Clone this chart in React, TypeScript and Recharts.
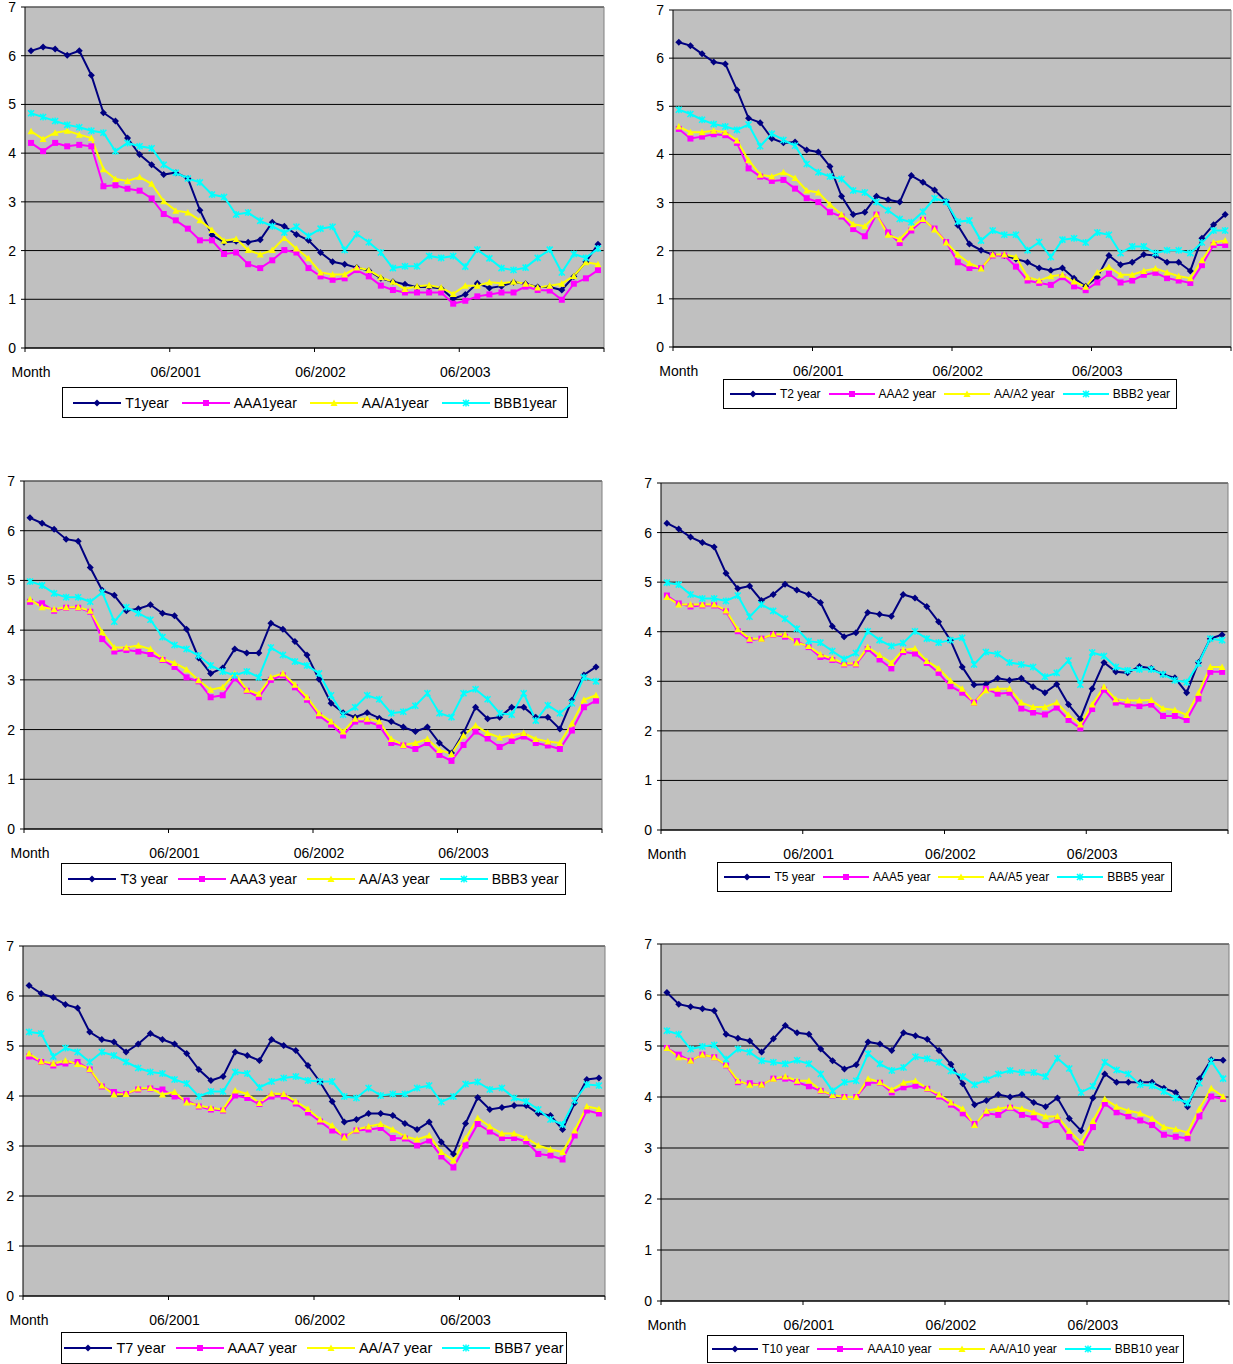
import { LineChart, Line, XAxis, YAxis, CartesianGrid, ReferenceLine } from 'recharts'

const months = [
  'Month', '07/2000', '08/2000', '09/2000', '10/2000', '11/2000', '12/2000', '01/2001', '02/2001', '03/2001', '04/2001', '05/2001',
  '06/2001', '07/2001', '08/2001', '09/2001', '10/2001', '11/2001', '12/2001', '01/2002', '02/2002', '03/2002', '04/2002', '05/2002',
  '06/2002', '07/2002', '08/2002', '09/2002', '10/2002', '11/2002', '12/2002', '01/2003', '02/2003', '03/2003', '04/2003', '05/2003',
  '06/2003', '07/2003', '08/2003', '09/2003', '10/2003', '11/2003', '12/2003', '01/2004', '02/2004', '03/2004', '04/2004', '05/2004',
]
const labelIdx = [0, 12, 24, 36]
const boundaryIdx = [-0.5, 11.5, 23.5, 35.5, 47.5]
const yTicks = [0, 1, 2, 3, 4, 5, 6, 7]

// 1 year
const t1 = [6.10, 6.18, 6.14, 6.01, 6.10, 5.60, 4.83, 4.66, 4.31, 3.97, 3.76, 3.56, 3.60, 3.48, 2.83, 2.32, 2.17, 2.19, 2.17, 2.22, 2.58, 2.50, 2.33, 2.21, 1.96, 1.77, 1.72, 1.65, 1.59, 1.43, 1.36, 1.31, 1.25, 1.25, 1.22, 1.01, 1.10, 1.33, 1.23, 1.27, 1.35, 1.32, 1.25, 1.25, 1.19, 1.47, 1.77, 2.13]
const aaa1 = [4.21, 4.04, 4.21, 4.14, 4.17, 4.14, 3.32, 3.34, 3.27, 3.23, 3.07, 2.75, 2.62, 2.45, 2.21, 2.21, 1.93, 1.96, 1.72, 1.64, 1.80, 2.01, 1.96, 1.64, 1.47, 1.40, 1.43, 1.60, 1.47, 1.28, 1.19, 1.14, 1.14, 1.14, 1.14, 0.91, 0.97, 1.06, 1.10, 1.14, 1.14, 1.26, 1.19, 1.18, 0.99, 1.32, 1.43, 1.60]
const aa1 = [4.45, 4.29, 4.42, 4.46, 4.38, 4.31, 3.67, 3.47, 3.43, 3.51, 3.37, 3.01, 2.82, 2.78, 2.62, 2.42, 2.20, 2.24, 2.01, 1.92, 2.01, 2.26, 2.04, 1.84, 1.55, 1.51, 1.51, 1.65, 1.60, 1.45, 1.36, 1.21, 1.27, 1.29, 1.24, 1.11, 1.28, 1.28, 1.35, 1.33, 1.36, 1.32, 1.24, 1.28, 1.32, 1.48, 1.76, 1.72]
const bbb1 = [4.82, 4.74, 4.66, 4.58, 4.53, 4.46, 4.42, 4.04, 4.21, 4.14, 4.10, 3.76, 3.60, 3.48, 3.40, 3.15, 3.10, 2.74, 2.78, 2.61, 2.50, 2.37, 2.49, 2.30, 2.45, 2.49, 2.01, 2.34, 2.17, 1.96, 1.64, 1.68, 1.68, 1.89, 1.85, 1.89, 1.67, 2.02, 1.84, 1.64, 1.60, 1.65, 1.85, 2.02, 1.55, 1.93, 1.85, 2.04]

// 2 year
const t2 = [6.33, 6.26, 6.09, 5.92, 5.88, 5.34, 4.75, 4.66, 4.33, 4.24, 4.26, 4.09, 4.05, 3.75, 3.13, 2.75, 2.80, 3.13, 3.06, 3.01, 3.56, 3.42, 3.26, 3.02, 2.53, 2.14, 2.01, 1.92, 1.90, 1.83, 1.76, 1.64, 1.59, 1.64, 1.43, 1.26, 1.45, 1.90, 1.71, 1.76, 1.92, 1.90, 1.76, 1.76, 1.58, 2.26, 2.54, 2.75]
const aaa2 = [4.53, 4.33, 4.37, 4.42, 4.40, 4.24, 3.71, 3.54, 3.45, 3.47, 3.29, 3.09, 3.01, 2.80, 2.71, 2.45, 2.30, 2.75, 2.38, 2.16, 2.42, 2.64, 2.46, 2.18, 1.76, 1.64, 1.64, 1.90, 1.90, 1.67, 1.38, 1.33, 1.29, 1.45, 1.26, 1.18, 1.34, 1.52, 1.34, 1.38, 1.50, 1.54, 1.43, 1.38, 1.33, 1.70, 2.12, 2.12]
const aa2 = [4.58, 4.46, 4.46, 4.49, 4.46, 4.29, 3.88, 3.58, 3.54, 3.63, 3.51, 3.25, 3.21, 2.96, 2.75, 2.55, 2.51, 2.75, 2.33, 2.24, 2.48, 2.66, 2.44, 2.17, 1.92, 1.74, 1.63, 1.92, 1.92, 1.87, 1.45, 1.38, 1.47, 1.50, 1.36, 1.25, 1.55, 1.66, 1.50, 1.50, 1.58, 1.63, 1.55, 1.47, 1.43, 1.80, 2.17, 2.21]
const bbb2 = [4.93, 4.84, 4.72, 4.63, 4.58, 4.51, 4.62, 4.17, 4.43, 4.30, 4.18, 3.80, 3.63, 3.54, 3.49, 3.25, 3.21, 3.01, 2.84, 2.66, 2.59, 2.81, 3.09, 3.01, 2.60, 2.63, 2.21, 2.42, 2.33, 2.33, 2.01, 2.18, 1.87, 2.23, 2.26, 2.17, 2.38, 2.33, 1.95, 2.09, 2.09, 1.95, 2.01, 2.01, 1.95, 2.17, 2.42, 2.42]

// 3 year
const t3 = [6.26, 6.15, 6.03, 5.83, 5.79, 5.26, 4.80, 4.70, 4.39, 4.43, 4.51, 4.34, 4.29, 4.02, 3.44, 3.13, 3.24, 3.62, 3.54, 3.54, 4.14, 4.02, 3.77, 3.50, 3.01, 2.53, 2.34, 2.25, 2.34, 2.23, 2.16, 2.05, 1.96, 2.05, 1.73, 1.53, 1.93, 2.45, 2.22, 2.25, 2.45, 2.45, 2.25, 2.25, 2.01, 2.59, 3.10, 3.26]
const aaa3 = [4.57, 4.54, 4.39, 4.45, 4.45, 4.37, 3.82, 3.57, 3.60, 3.57, 3.52, 3.40, 3.26, 3.05, 2.97, 2.65, 2.69, 3.03, 2.78, 2.65, 3.00, 3.09, 2.85, 2.60, 2.28, 2.10, 1.88, 2.16, 2.16, 2.08, 1.73, 1.68, 1.61, 1.73, 1.49, 1.37, 1.69, 1.96, 1.82, 1.65, 1.77, 1.86, 1.73, 1.68, 1.61, 1.98, 2.45, 2.58]
const aa3 = [4.62, 4.46, 4.42, 4.46, 4.46, 4.39, 3.96, 3.65, 3.65, 3.69, 3.62, 3.42, 3.34, 3.21, 2.99, 2.80, 2.85, 3.13, 2.80, 2.72, 3.05, 3.13, 2.90, 2.65, 2.33, 2.16, 1.96, 2.22, 2.22, 2.16, 1.81, 1.69, 1.73, 1.81, 1.59, 1.51, 1.88, 2.08, 1.93, 1.84, 1.88, 1.93, 1.81, 1.76, 1.73, 2.12, 2.60, 2.69]
const bbb3 = [4.98, 4.90, 4.74, 4.66, 4.66, 4.57, 4.76, 4.17, 4.46, 4.34, 4.21, 3.86, 3.70, 3.62, 3.49, 3.29, 3.17, 3.09, 3.17, 3.05, 3.65, 3.50, 3.37, 3.29, 3.13, 2.69, 2.30, 2.45, 2.69, 2.61, 2.33, 2.36, 2.48, 2.73, 2.33, 2.25, 2.73, 2.81, 2.61, 2.33, 2.30, 2.73, 2.18, 2.49, 2.33, 2.53, 3.05, 2.97]

// 5 year
const t5 = [6.19, 6.07, 5.91, 5.80, 5.71, 5.18, 4.87, 4.92, 4.63, 4.75, 4.96, 4.84, 4.75, 4.59, 4.11, 3.90, 3.98, 4.39, 4.35, 4.31, 4.75, 4.68, 4.51, 4.20, 3.83, 3.29, 2.93, 2.94, 3.06, 3.02, 3.06, 2.89, 2.77, 2.94, 2.53, 2.24, 2.85, 3.38, 3.19, 3.17, 3.30, 3.26, 3.14, 3.07, 2.77, 3.38, 3.86, 3.94]
const aaa5 = [4.73, 4.57, 4.51, 4.53, 4.53, 4.41, 4.01, 3.83, 3.86, 3.94, 3.90, 3.81, 3.69, 3.49, 3.43, 3.34, 3.34, 3.65, 3.44, 3.26, 3.59, 3.56, 3.37, 3.17, 2.90, 2.77, 2.57, 2.85, 2.75, 2.77, 2.45, 2.37, 2.33, 2.47, 2.22, 2.05, 2.44, 2.83, 2.57, 2.53, 2.50, 2.53, 2.30, 2.30, 2.22, 2.65, 3.19, 3.19]
const aa5 = [4.70, 4.55, 4.55, 4.55, 4.55, 4.43, 4.05, 3.86, 3.86, 3.95, 3.94, 3.78, 3.71, 3.54, 3.46, 3.36, 3.36, 3.69, 3.53, 3.37, 3.63, 3.66, 3.41, 3.26, 3.01, 2.85, 2.57, 2.82, 2.85, 2.85, 2.57, 2.48, 2.48, 2.57, 2.32, 2.13, 2.53, 2.89, 2.64, 2.61, 2.61, 2.62, 2.45, 2.42, 2.32, 2.77, 3.29, 3.29]
const bbb5 = [4.99, 4.95, 4.75, 4.67, 4.67, 4.62, 4.73, 4.30, 4.55, 4.42, 4.26, 4.06, 3.81, 3.78, 3.61, 3.45, 3.57, 4.01, 3.83, 3.71, 3.77, 4.01, 3.86, 3.78, 3.83, 3.88, 3.34, 3.59, 3.55, 3.38, 3.34, 3.29, 3.09, 3.17, 3.42, 2.93, 3.58, 3.51, 3.29, 3.22, 3.24, 3.24, 3.14, 3.02, 2.98, 3.36, 3.86, 3.83]

// 7 year
const t7 = [6.21, 6.05, 5.97, 5.83, 5.76, 5.28, 5.13, 5.08, 4.88, 5.04, 5.25, 5.13, 5.04, 4.85, 4.53, 4.31, 4.39, 4.88, 4.81, 4.71, 5.13, 5.01, 4.91, 4.61, 4.28, 3.89, 3.48, 3.53, 3.65, 3.65, 3.61, 3.45, 3.33, 3.48, 3.08, 2.84, 3.45, 3.97, 3.73, 3.77, 3.81, 3.81, 3.65, 3.61, 3.33, 3.86, 4.33, 4.36]
const aaa7 = [4.79, 4.68, 4.61, 4.65, 4.68, 4.53, 4.19, 4.08, 4.04, 4.13, 4.15, 4.13, 3.99, 3.91, 3.79, 3.73, 3.71, 4.01, 3.96, 3.84, 3.99, 3.99, 3.85, 3.67, 3.49, 3.31, 3.19, 3.31, 3.33, 3.36, 3.16, 3.15, 3.01, 3.11, 2.79, 2.57, 3.01, 3.44, 3.29, 3.16, 3.16, 3.09, 2.84, 2.81, 2.73, 3.21, 3.71, 3.65]
const aa7 = [4.85, 4.69, 4.65, 4.71, 4.64, 4.54, 4.21, 4.03, 4.04, 4.15, 4.16, 4.03, 4.08, 3.87, 3.81, 3.76, 3.73, 4.11, 4.04, 3.86, 4.05, 4.04, 3.89, 3.74, 3.53, 3.41, 3.17, 3.33, 3.39, 3.44, 3.33, 3.19, 3.13, 3.21, 2.88, 2.71, 3.15, 3.56, 3.39, 3.25, 3.25, 3.16, 3.01, 2.93, 2.88, 3.31, 3.79, 3.74]
const bbb7 = [5.28, 5.25, 4.79, 4.96, 4.88, 4.68, 4.88, 4.81, 4.68, 4.56, 4.48, 4.45, 4.33, 4.25, 3.99, 4.09, 4.09, 4.48, 4.45, 4.17, 4.29, 4.36, 4.39, 4.31, 4.29, 4.29, 3.99, 3.96, 4.16, 4.01, 4.04, 4.04, 4.16, 4.21, 3.88, 3.99, 4.24, 4.28, 4.13, 4.16, 3.96, 3.89, 3.73, 3.53, 3.43, 3.91, 4.23, 4.21]

// 10 year
const t10 = [6.05, 5.82, 5.77, 5.73, 5.69, 5.23, 5.15, 5.10, 4.88, 5.14, 5.40, 5.26, 5.23, 4.94, 4.71, 4.55, 4.63, 5.08, 5.04, 4.91, 5.26, 5.20, 5.13, 4.91, 4.64, 4.26, 3.85, 3.93, 4.05, 4.00, 4.05, 3.89, 3.81, 3.98, 3.58, 3.34, 3.98, 4.45, 4.29, 4.29, 4.29, 4.29, 4.17, 4.09, 3.81, 4.36, 4.73, 4.72]
const aaa10 = [4.96, 4.83, 4.71, 4.83, 4.78, 4.62, 4.29, 4.27, 4.24, 4.36, 4.36, 4.29, 4.21, 4.12, 4.03, 4.00, 4.00, 4.28, 4.28, 4.09, 4.19, 4.22, 4.16, 4.01, 3.85, 3.68, 3.47, 3.68, 3.65, 3.79, 3.65, 3.60, 3.45, 3.55, 3.22, 3.00, 3.41, 3.87, 3.70, 3.62, 3.54, 3.45, 3.26, 3.22, 3.19, 3.62, 4.01, 3.96]
const aa10 = [4.96, 4.78, 4.71, 4.83, 4.78, 4.63, 4.32, 4.24, 4.24, 4.36, 4.40, 4.32, 4.32, 4.13, 4.04, 4.00, 4.00, 4.36, 4.29, 4.14, 4.28, 4.32, 4.17, 4.05, 3.89, 3.77, 3.45, 3.73, 3.77, 3.81, 3.77, 3.70, 3.62, 3.62, 3.34, 3.11, 3.53, 3.96, 3.81, 3.73, 3.68, 3.58, 3.41, 3.37, 3.30, 3.77, 4.17, 4.01]
const bbb10 = [5.30, 5.23, 4.94, 4.99, 5.02, 4.74, 4.94, 4.88, 4.71, 4.68, 4.65, 4.72, 4.65, 4.45, 4.12, 4.29, 4.32, 4.85, 4.65, 4.52, 4.58, 4.79, 4.75, 4.68, 4.51, 4.40, 4.24, 4.34, 4.45, 4.52, 4.48, 4.48, 4.40, 4.76, 4.56, 4.09, 4.21, 4.68, 4.53, 4.45, 4.24, 4.22, 4.11, 3.98, 3.88, 4.27, 4.70, 4.36]

const colors = ['#000080', '#FF00FF', '#FFFF00', '#00FFFF']
const shapes = ['diamond', 'square', 'triangle', 'star']
const FONT = 'Arial, "Liberation Sans", sans-serif'

type PanelCfg = {
  names: string[]
  series: number[][]
  plot: { x: number; y: number; w: number; h: number }
  legend: { x: number; y: number; w: number; h: number; font: number; line: number; gap: number }
  font: number
}

const panels: PanelCfg[] = [
  {
    names: ['T1year', 'AAA1year', 'AA/A1year', 'BBB1year'],
    series: [t1, aaa1, aa1, bbb1],
    plot: { x: 25, y: 7, w: 579, h: 341 },
    legend: { x: 62, y: 387, w: 506, h: 31, font: 14, line: 48, gap: 13 },
    font: 14,
  },
  {
    names: ['T2 year', 'AAA2 year', 'AA/A2 year', 'BBB2 year'],
    series: [t2, aaa2, aa2, bbb2],
    plot: { x: 673, y: 10, w: 558, h: 337 },
    legend: { x: 723, y: 379, w: 454, h: 30, font: 12, line: 46, gap: 8 },
    font: 14,
  },
  {
    names: ['T3 year', 'AAA3 year', 'AA/A3 year', 'BBB3 year'],
    series: [t3, aaa3, aa3, bbb3],
    plot: { x: 24, y: 481, w: 578, h: 348 },
    legend: { x: 61, y: 863, w: 505, h: 32, font: 14, line: 48, gap: 10 },
    font: 14,
  },
  {
    names: ['T5 year', 'AAA5 year', 'AA/A5 year', 'BBB5 year'],
    series: [t5, aaa5, aa5, bbb5],
    plot: { x: 661, y: 483, w: 567, h: 347 },
    legend: { x: 717, y: 862, w: 455, h: 30, font: 12, line: 46, gap: 8 },
    font: 14,
  },
  {
    names: ['T7 year', 'AAA7 year', 'AA/A7 year', 'BBB7 year'],
    series: [t7, aaa7, aa7, bbb7],
    plot: { x: 23, y: 946, w: 582, h: 350 },
    legend: { x: 61, y: 1332, w: 506, h: 32, font: 14.5, line: 48, gap: 10 },
    font: 14,
  },
  {
    names: ['T10 year', 'AAA10 year', 'AA/A10 year', 'BBB10 year'],
    series: [t10, aaa10, aa10, bbb10],
    plot: { x: 661, y: 944, w: 568, h: 357 },
    legend: { x: 707, y: 1335, w: 477, h: 28, font: 12, line: 46, gap: 8 },
    font: 14,
  },
]

function Marker({ shape, cx, cy, color }: { shape: string; cx: number; cy: number; color: string }) {
  if (shape === 'diamond') {
    return <polygon points={`${cx},${cy - 3.5} ${cx + 3.5},${cy} ${cx},${cy + 3.5} ${cx - 3.5},${cy}`} fill={color} />
  }
  if (shape === 'square') {
    return <rect x={cx - 3} y={cy - 3} width={6} height={6} fill={color} />
  }
  if (shape === 'triangle') {
    return <polygon points={`${cx},${cy - 3.5} ${cx + 3.5},${cy + 3} ${cx - 3.5},${cy + 3}`} fill={color} />
  }
  return (
    <path
      d={`M${cx - 3},${cy - 3}L${cx + 3},${cy + 3}M${cx - 3},${cy + 3}L${cx + 3},${cy - 3}M${cx},${cy - 3.5}L${cx},${cy + 3.5}`}
      stroke={color}
      strokeWidth={1.5}
      fill="none"
    />
  )
}

function Legend({ cfg }: { cfg: PanelCfg }) {
  const l = cfg.legend
  return (
    <div
      style={{
        position: 'absolute', left: l.x, top: l.y, width: l.w, height: l.h, boxSizing: 'border-box',
        border: '1px solid #000', background: '#fff', display: 'flex', alignItems: 'center',
        justifyContent: 'center', fontFamily: FONT, fontSize: l.font, color: '#000', whiteSpace: 'nowrap',
      }}
    >
      {cfg.names.map((n, k) => (
        <div key={n} style={{ display: 'flex', alignItems: 'center', marginRight: k < 3 ? l.gap : 0 }}>
          <svg width={l.line} height={10} style={{ display: 'block' }}>
            <line x1={0} y1={5} x2={l.line} y2={5} stroke={colors[k]} strokeWidth={2} />
            <Marker shape={shapes[k]} cx={l.line / 2} cy={5} color={colors[k]} />
          </svg>
          <span style={{ marginLeft: 4 }}>{n}</span>
        </div>
      ))}
    </div>
  )
}

function Panel({ cfg }: { cfg: PanelCfg }) {
  const { plot } = cfg
  const data = months.map((m, i) => ({
    i,
    month: m,
    s0: cfg.series[0][i],
    s1: cfg.series[1][i],
    s2: cfg.series[2][i],
    s3: cfg.series[3][i],
  }))
  const W = plot.w + 25 + 8
  const H = plot.h + 8 + 40

  const xTick = (props: any) => {
    const { x, y, payload } = props
    const v = payload.value
    if (Number.isInteger(v)) {
      return (
        <text x={x} y={y + 24} textAnchor="middle" dominantBaseline="central" fontSize={cfg.font} fontFamily={FONT} fill="#000">
          {months[v]}
        </text>
      )
    }
    return <line x1={x} y1={y} x2={x} y2={y + 4} stroke="#000" />
  }

  return (
    <div style={{ position: 'absolute', left: plot.x - 25, top: plot.y - 8 }}>
      <LineChart width={W} height={H} data={data} margin={{ top: 8, right: 8, left: 0, bottom: 0 }}>
        <CartesianGrid vertical={false} stroke="#000" fill="#C0C0C0" />
        <ReferenceLine y={7} stroke="#808080" />
        <ReferenceLine x={47.5} stroke="#808080" />
        <XAxis
          dataKey="i"
          type="number"
          domain={[-0.5, 47.5]}
          ticks={[...boundaryIdx, ...labelIdx].sort((a, b) => a - b)}
          interval={0}
          tick={xTick}
          tickLine={false}
          tickSize={0}
          tickMargin={0}
          height={40}
          axisLine={{ stroke: '#000' }}
          allowDataOverflow
        />
        <YAxis
          type="number"
          domain={[0, 7]}
          ticks={yTicks}
          interval={0}
          width={25}
          tickSize={4}
          tickMargin={5}
          axisLine={{ stroke: '#000' }}
          tickLine={{ stroke: '#000' }}
          tick={{ fontSize: cfg.font, fontFamily: FONT, fill: '#000' }}
          allowDataOverflow
        />
        {[0, 1, 2, 3].map((k) => (
          <Line
            key={k}
            type="linear"
            dataKey={`s${k}`}
            name={cfg.names[k]}
            stroke={colors[k]}
            strokeWidth={2}
            isAnimationActive={false}
            activeDot={false}
            dot={(p: any) => (
              <Marker key={`${k}-${p.index}`} shape={shapes[k]} cx={p.cx} cy={p.cy} color={colors[k]} />
            )}
          />
        ))}
      </LineChart>
    </div>
  )
}

export default function App() {
  return (
    <div style={{ position: 'absolute', left: 0, top: 0, width: 1233, height: 1364, overflow: 'hidden', background: '#fff' }}>
      {panels.map((p) => (
        <Panel key={p.names[0]} cfg={p} />
      ))}
      {panels.map((p) => (
        <Legend key={`lg-${p.names[0]}`} cfg={p} />
      ))}
    </div>
  )
}
